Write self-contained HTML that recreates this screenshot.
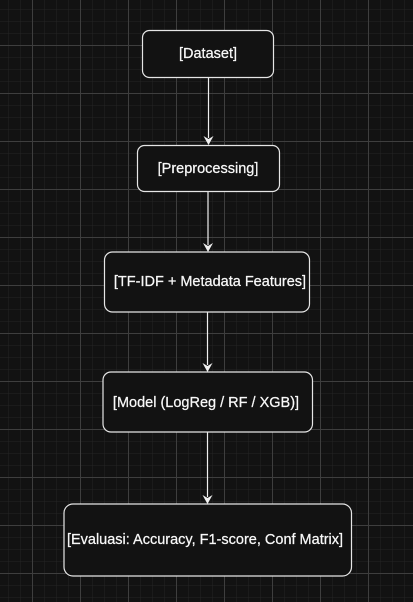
<!DOCTYPE html>
<html><head><style>html,body{margin:0;padding:0;background:#121212;}svg{display:block}</style></head>
<body>
<svg width="413" height="602" xmlns="http://www.w3.org/2000/svg" font-family="Liberation Sans, Arial, sans-serif" font-size="14.5">
<defs>
<pattern id="minor" x="8" y="9" width="12" height="12" patternUnits="userSpaceOnUse">
<path d="M0 0H12M0 0V12" stroke="#242424" stroke-width="1" fill="none"/>
</pattern>
<pattern id="major" x="32" y="45" width="48" height="48" patternUnits="userSpaceOnUse">
<path d="M0.5 0V48M0 0.5H48" stroke="#3e3e3e" stroke-width="1" fill="none"/>
</pattern>
</defs>
<rect width="413" height="602" fill="#121212"/>
<rect width="413" height="602" fill="url(#minor)"/>
<rect width="413" height="602" fill="url(#major)"/>
<g stroke="#f0f0f0" stroke-width="1.2" fill="none">
<line x1="208.5" y1="78" x2="208.5" y2="138"/>
<line x1="208" y1="192" x2="208" y2="245"/>
<line x1="207.5" y1="312" x2="207.5" y2="365"/>
<line x1="207.5" y1="432" x2="207.5" y2="497"/>
</g>
<g fill="#f0f0f0">
<path d="M203.5 136 L208.5 145 L213.5 136 L208.5 139 Z"/>
<path d="M203 243 L208 252 L213 243 L208 246 Z"/>
<path d="M202.5 363 L207.5 372 L212.5 363 L207.5 366 Z"/>
<path d="M202.5 495 L207.5 504 L212.5 495 L207.5 498 Z"/>
</g>
<g fill="#121212" stroke="#e6e6e6" stroke-width="1.2">
<rect x="142.5" y="30.5" width="131" height="47" rx="7"/>
<rect x="137.5" y="145.5" width="142" height="46" rx="7"/>
<rect x="104.5" y="252" width="205" height="60" rx="8"/>
<rect x="103" y="372" width="209.5" height="60" rx="8"/>
<rect x="64" y="504" width="287.5" height="72" rx="9"/>
</g>
<g fill="#f8f8f8" text-anchor="middle" stroke="#f8f8f8" stroke-width="0.25">
<text x="208" y="58">[Dataset]</text>
<text x="208" y="173">[Preprocessing]</text>
<text x="210" y="286">[TF-IDF + Metadata Features]</text>
<text x="206" y="407">[Model (LogReg / RF / XGB)]</text>
<text x="205" y="544">[Evaluasi: Accuracy, F1-score, Conf Matrix]</text>
</g>
</svg>
</body></html>
